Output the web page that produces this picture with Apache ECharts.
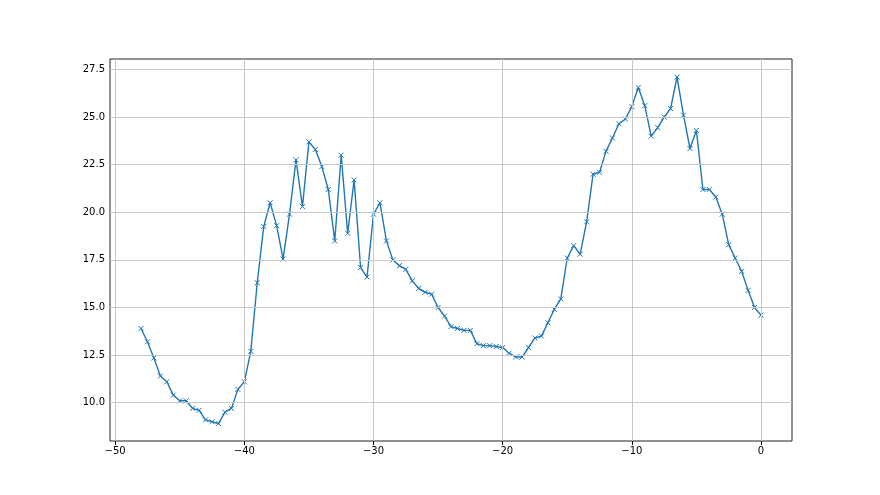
<!DOCTYPE html>
<html>
<head>
<meta charset="utf-8">
<script src="https://cdn.jsdelivr.net/npm/echarts@6/dist/echarts.min.js"></script>
<style>html,body{margin:0;padding:0;background:#fff}#c{width:880px;height:495px}</style>
</head>
<body>
<div id="c"></div>
<script>
const xValues = [-48,-47.5,-47,-46.5,-46,-45.5,-45,-44.5,-44,-43.5,-43,-42.5,-42,-41.5,-41,-40.5,-40,-39.5,-39,-38.5,-38,-37.5,-37,-36.5,-36,-35.5,-35,-34.5,-34,-33.5,-33,-32.5,-32,-31.5,-31,-30.5,-30,-29.5,-29,-28.5,-28,-27.5,-27,-26.5,-26,-25.5,-25,-24.5,-24,-23.5,-23,-22.5,-22,-21.5,-21,-20.5,-20,-19.5,-19,-18.5,-18,-17.5,-17,-16.5,-16,-15.5,-15,-14.5,-14,-13.5,-13,-12.5,-12,-11.5,-11,-10.5,-10,-9.5,-9,-8.5,-8,-7.5,-7,-6.5,-6,-5.5,-5,-4.5,-4,-3.5,-3,-2.5,-2,-1.5,-1,-0.5,0];
const yValues = [13.9,13.2,12.35,11.4,11.1,10.4,10.1,10.1,9.7,9.6,9.1,9.0,8.9,9.5,9.7,10.7,11.1,12.7,16.3,19.25,20.5,19.3,17.55,19.9,22.75,20.3,23.7,23.3,22.4,21.2,18.5,23.0,18.9,21.7,17.1,16.6,19.9,20.5,18.5,17.5,17.2,17.0,16.4,16.0,15.8,15.7,15.0,14.55,14.0,13.9,13.8,13.8,13.1,13.0,13.0,12.95,12.9,12.6,12.4,12.4,12.9,13.4,13.5,14.2,14.9,15.45,17.6,18.25,17.8,19.5,22.0,22.1,23.2,23.9,24.65,24.9,25.55,26.55,25.6,24.0,24.45,25.0,25.45,27.1,25.1,23.35,24.3,21.2,21.2,20.8,19.9,18.3,17.6,16.9,15.9,15.0,14.6];
const xTicks = [-50,-40,-30,-20,-10,0];
const yTicks = [10,12.5,15,17.5,20,22.5,25,27.5];

const data = xValues.map((x, i) => [x, yValues[i]]);
const chart = echarts.init(document.getElementById('c'), null, {renderer: 'canvas'});
const labelStyle = {color: '#000', fontSize: 10, fontFamily: 'DejaVu Sans'};
const gridLines = xTicks.map(v => ({xAxis: v})).concat(yTicks.map(v => ({yAxis: v})));
chart.setOption({
  animation: false,
  backgroundColor: '#fff',
  grid: {left: 110, right: 88, top: 59, bottom: 54, show: true, borderColor: '#222', borderWidth: 1, backgroundColor: 'transparent'},
  xAxis: {
    type: 'value', min: -50.4, max: 2.4,
    axisLine: {show: false},
    axisTick: {show: true, inside: false, length: 4, lineStyle: {color: '#000', width: 1}, customValues: xTicks},
    axisLabel: Object.assign({margin: 5, customValues: xTicks, formatter: v => String(v).replace('-', '\u2212')}, labelStyle),
    splitLine: {show: false}
  },
  yAxis: {
    type: 'value', min: 7.99, max: 28.05,
    axisLine: {show: false},
    axisTick: {show: true, inside: false, length: 4, lineStyle: {color: '#000', width: 1}, customValues: yTicks},
    axisLabel: Object.assign({margin: 5, customValues: yTicks, formatter: v => v.toFixed(1)}, labelStyle),
    splitLine: {show: false}
  },
  series: [{
    type: 'line',
    data: [],
    z: 1,
    markLine: {
      silent: true,
      symbol: 'none',
      label: {show: false},
      lineStyle: {color: '#c8c8c8', width: 1, type: 'solid'},
      emphasis: {disabled: true},
      data: gridLines
    }
  }, {
    type: 'line',
    data: data,
    symbol: 'path://M0,0L10,10M10,0L0,10',
    symbolSize: 5,
    showAllSymbol: true,
    lineStyle: {color: '#1f77b4', width: 1.4},
    itemStyle: {color: '#1f77b4', borderColor: '#1f77b4', borderWidth: 1},
    z: 3
  }]
});
</script>
</body>
</html>
